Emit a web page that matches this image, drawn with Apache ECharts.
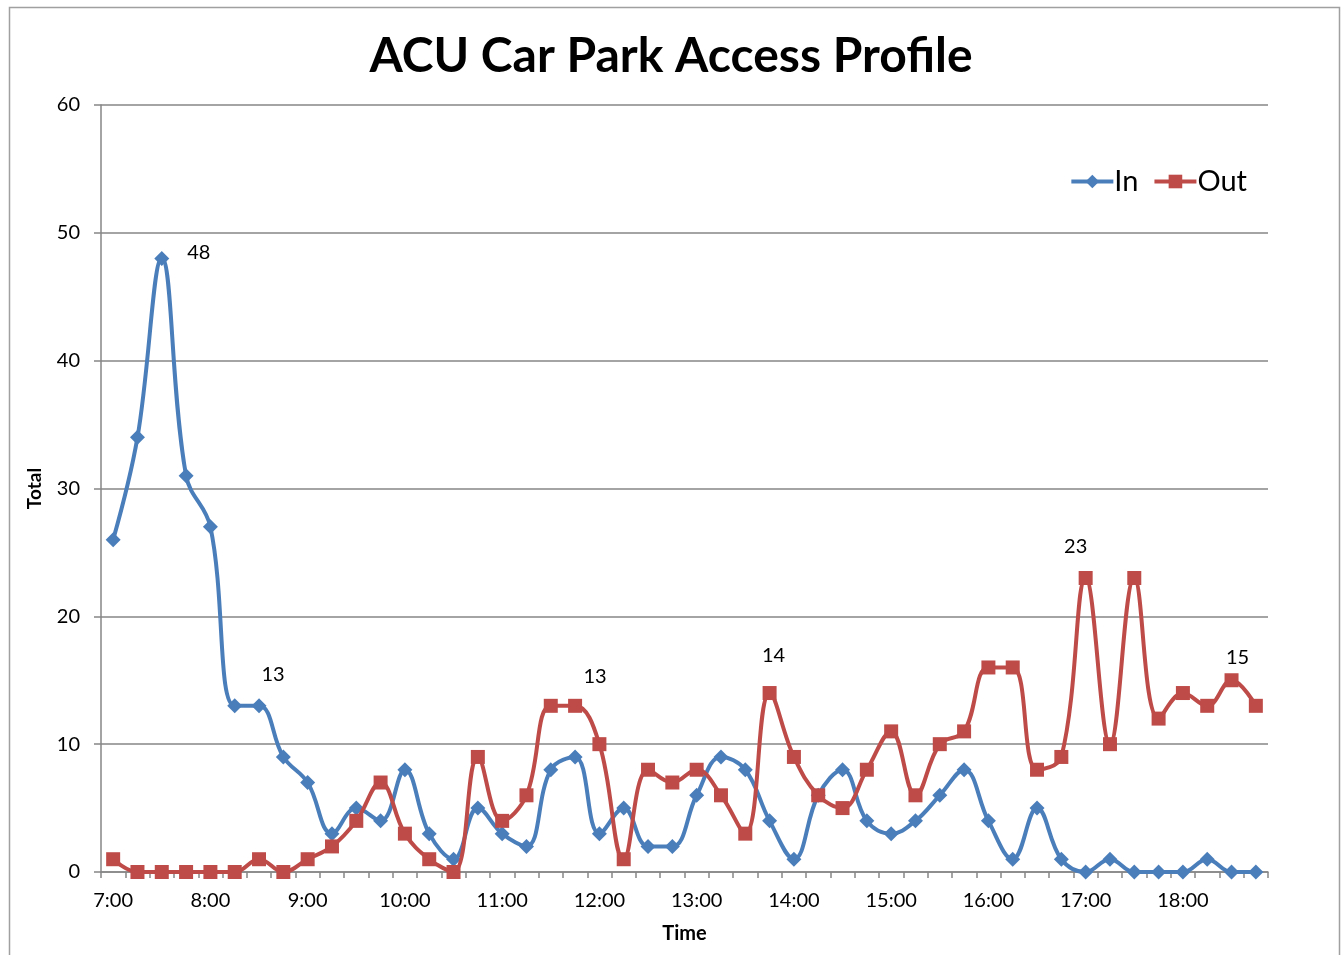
<!DOCTYPE html>
<html>
<head>
<meta charset="utf-8">
<script src="https://cdn.jsdelivr.net/npm/echarts@6/dist/echarts.min.js"></script>
<style>
html,body{margin:0;padding:0;background:#fff;}
#chart{width:1342px;height:955px;}
</style>
</head>
<body>
<div id="chart"></div>
<script>
const times = ["7:00","7:15","7:30","7:45","8:00","8:15","8:30","8:45","9:00","9:15","9:30","9:45",
"10:00","10:15","10:30","10:45","11:00","11:15","11:30","11:45","12:00","12:15","12:30","12:45",
"13:00","13:15","13:30","13:45","14:00","14:15","14:30","14:45","15:00","15:15","15:30","15:45",
"16:00","16:15","16:30","16:45","17:00","17:15","17:30","17:45","18:00","18:15","18:30","18:45"];
const inValues = [26,34,48,31,27,13,13,9,7,3,5,4,8,3,1,5,3,2,8,9,3,5,2,2,6,9,8,4,1,6,8,4,3,4,6,8,4,1,5,1,0,1,0,0,0,1,0,0];
const outValues = [1,0,0,0,0,0,1,0,1,2,4,7,3,1,0,9,4,6,13,13,10,1,8,7,8,6,3,14,9,6,5,8,11,6,10,11,16,16,8,9,23,10,23,12,14,13,15,13];
const yTicks = [0,10,20,30,40,50,60];
const inLabelIdx = [2,6];
const outLabelIdx = [19,27,40,46];

const labelOffsets = {in:{2:[37,-6],6:[14,-31]}, out:{19:[20,-29],27:[4,-37],40:[-10,-31],46:[6,-23]}};
const FONT = 'Lato, "Open Sans", sans-serif';

function mk(values, idxs, offs){
  return values.map((v,i)=>{
    if(idxs.indexOf(i)>=0){
      return {value:v,label:{show:true,position:'inside',offset:offs[i],color:'#000',fontSize:20,fontFamily:FONT}};
    }
    return v;
  });
}

const chart = echarts.init(document.getElementById('chart'));
chart.setOption({
  backgroundColor:'#fff',
  animation:false,
  title:{text:'ACU Car Park Access Profile',left:'center',top:28,
    textStyle:{fontFamily:FONT,fontWeight:'bold',fontSize:48,color:'#000'}},
  legend:{right:90,top:162,itemWidth:42,itemHeight:17,itemGap:14,
    lineStyle:{width:4},
    textStyle:{fontFamily:FONT,fontSize:29,color:'#000',padding:[0,0,0,-4]},
    data:['In','Out']},
  graphic:[{type:'rect',shape:{x:9.5,y:7.5,width:1330,height:960},
    style:{fill:'none',stroke:'#a0a0a0',lineWidth:1.5},silent:true}],
  grid:{left:101,right:74,top:105,bottom:83,containLabel:false},
  xAxis:{type:'category',data:times,boundaryGap:true,
    name:'Time',nameLocation:'middle',nameGap:52,
    nameTextStyle:{fontFamily:FONT,fontWeight:'bold',fontSize:20,color:'#000'},
    axisLine:{lineStyle:{color:'#868686',width:1.5}},
    axisTick:{show:true,interval:0,length:6,lineStyle:{color:'#868686',width:1.5}},
    axisLabel:{interval:3,color:'#000',fontFamily:FONT,fontSize:20,margin:19},
    splitLine:{show:false}},
  yAxis:{type:'value',min:0,max:60,interval:10,
    name:'Total',nameLocation:'middle',nameGap:57,nameRotate:90,
    nameTextStyle:{fontFamily:FONT,fontWeight:'bold',fontSize:19,color:'#000'},
    axisLine:{show:true,lineStyle:{color:'#868686',width:1.5}},
    axisTick:{show:true,length:7,lineStyle:{color:'#868686',width:1.5}},
    axisLabel:{color:'#000',fontFamily:FONT,fontSize:20,margin:21,
      formatter:v=>yTicks.indexOf(v)>=0?String(v):''},
    splitLine:{lineStyle:{color:'#868686',width:1.5}}},
  series:[
    {name:'In',type:'line',data:mk(inValues,inLabelIdx,labelOffsets.in),smooth:0.4,
     symbol:'diamond',symbolSize:15,
     itemStyle:{color:'#4A7EBB'},lineStyle:{color:'#4A7EBB',width:4},z:3},
    {name:'Out',type:'line',data:mk(outValues,outLabelIdx,labelOffsets.out),smooth:0.4,
     symbol:'rect',symbolSize:14,
     itemStyle:{color:'#BE4B48'},lineStyle:{color:'#BE4B48',width:4},z:4}
  ]
});
</script>
</body>
</html>
